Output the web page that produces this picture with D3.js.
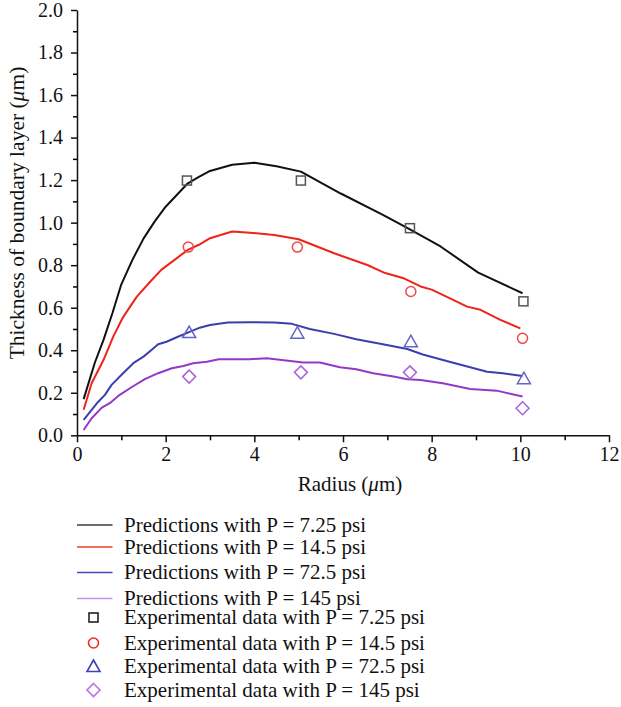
<!DOCTYPE html>
<html>
<head>
<meta charset="utf-8">
<script src="https://cdn.jsdelivr.net/npm/d3@7"></script>
<style>
  body { margin: 0; background: #fff; }
  svg text { font-family: "Liberation Serif", "Times New Roman", serif; fill: #111; }
</style>
</head>
<body>
<div id="chart"></div>
<script>
// predicted curves (radius in um, thickness in um)
var x725 = [0.15, 0.4, 0.6, 0.8, 1.0, 1.25, 1.5, 1.75, 2.0, 2.25, 2.5, 2.75, 3.0, 3.5, 4.0, 4.5, 5.05, 5.95, 6.9, 7.5, 8.2, 9.05, 10.05];
var y725 = [0.17, 0.34, 0.45, 0.575, 0.71, 0.825, 0.925, 1.005, 1.075, 1.13, 1.185, 1.215, 1.243, 1.272, 1.282, 1.265, 1.24, 1.137, 1.037, 0.97, 0.888, 0.765, 0.668];

var x145a = [0.15, 0.33, 0.6, 0.82, 1.04, 1.35, 1.65, 1.9, 2.2, 2.5, 2.75, 3.0, 3.5, 3.9, 4.45, 5.0, 5.8, 6.55, 6.95, 7.35, 7.75, 8.0, 8.25, 8.8, 9.1, 9.55, 10.0];
var y145a = [0.12, 0.245, 0.355, 0.465, 0.556, 0.652, 0.722, 0.778, 0.825, 0.872, 0.896, 0.927, 0.958, 0.953, 0.942, 0.922, 0.856, 0.801, 0.763, 0.74, 0.7, 0.685, 0.66, 0.605, 0.59, 0.543, 0.503];

var x725b = [0.15, 0.33, 0.48, 0.63, 0.78, 1.04, 1.27, 1.5, 1.68, 1.83, 2.02, 2.25, 2.5, 2.77, 3.0, 3.4, 3.9, 4.45, 4.85, 5.25, 5.8, 6.3, 6.9, 7.45, 7.8, 8.4, 9.25, 9.6, 10.05];
var y725b = [0.072, 0.119, 0.158, 0.19, 0.237, 0.292, 0.339, 0.37, 0.401, 0.428, 0.44, 0.461, 0.483, 0.506, 0.519, 0.53, 0.532, 0.53, 0.524, 0.5, 0.477, 0.452, 0.428, 0.406, 0.38, 0.346, 0.299, 0.292, 0.279];

var x145 = [0.15, 0.33, 0.56, 0.74, 0.93, 1.23, 1.53, 1.83, 2.14, 2.4, 2.62, 2.93, 3.2, 3.9, 4.28, 5.1, 5.48, 5.93, 6.3, 6.68, 7.14, 7.45, 7.75, 8.25, 8.87, 9.47, 10.05];
var y145 = [0.025, 0.08, 0.13, 0.151, 0.185, 0.226, 0.264, 0.292, 0.315, 0.326, 0.339, 0.346, 0.358, 0.358, 0.362, 0.342, 0.342, 0.32, 0.311, 0.292, 0.276, 0.264, 0.26, 0.245, 0.218, 0.21, 0.182];

// experimental points
var expX725 = [2.48, 5.05, 7.51, 10.07];
var expY725 = [1.198, 1.198, 0.974, 0.63];
var expX145a = [2.51, 4.97, 7.53, 10.05];
var expY145a = [0.885, 0.885, 0.676, 0.456];
var expX725b = [2.53, 4.97, 7.53, 10.08];
var expY725b = [0.483, 0.48, 0.44, 0.266];
var expX145 = [2.53, 5.05, 7.51, 10.05];
var expY145 = [0.276, 0.296, 0.296, 0.127];

var xTicks = [0, 2, 4, 6, 8, 10, 12];
var yTicks = [0.0, 0.2, 0.4, 0.6, 0.8, 1.0, 1.2, 1.4, 1.6, 1.8, 2.0];

var pressures = ["7.25", "14.5", "72.5", "145"];

var width = 621, height = 707;

var svg = d3.select("#chart").append("svg")
    .attr("width", width)
    .attr("height", height);

var x = d3.scaleLinear().domain([0, 12]).range([77, 609]);
var y = d3.scaleLinear().domain([0, 2]).range([435.3, 10]);

// series
var series = [
  {xs: x725, ys: y725, ex: expX725, ey: expY725, line: "#111", mark: "#555", legLine: "#3a3a3a", legMark: "#222", shape: "square"},
  {xs: x145a, ys: y145a, ex: expX145a, ey: expY145a, line: "#ee2418", mark: "#f04a4a", legLine: "#e8402e", legMark: "#e8301e", shape: "circle"},
  {xs: x725b, ys: y725b, ex: expX725b, ey: expY725b, line: "#3b3fae", mark: "#6464c4", legLine: "#4848b0", legMark: "#4040b0", shape: "triangle"},
  {xs: x145, ys: y145, ex: expX145, ey: expY145, line: "#9438c6", mark: "#a864dc", legLine: "#c890e2", legMark: "#c070e0", shape: "diamond"}
];

// minor ticks
svg.append("g")
    .attr("transform", "translate(0,435.3)")
    .call(d3.axisBottom(x).tickValues(d3.range(1, 12, 2)).tickSize(5).tickFormat(""))
    .call(function(g) { g.select(".domain").remove(); g.selectAll("line").attr("stroke-width", 1.5); });

svg.append("g")
    .attr("transform", "translate(77,0)")
    .call(d3.axisLeft(y).tickValues(d3.range(0.1, 2, 0.2)).tickSize(4).tickFormat(""))
    .call(function(g) { g.select(".domain").remove(); g.selectAll("line").attr("stroke-width", 1.5); });

// major axes
var xAxis = svg.append("g")
    .attr("transform", "translate(0,435.3)")
    .call(d3.axisBottom(x).tickValues(xTicks).tickSize(7).tickPadding(5).tickSizeOuter(0).tickFormat(d3.format("d")));

var yAxis = svg.append("g")
    .attr("transform", "translate(77,0)")
    .call(d3.axisLeft(y).tickValues(yTicks).tickSize(6).tickPadding(8).tickSizeOuter(0).tickFormat(d3.format(".1f")));

[xAxis, yAxis].forEach(function(a) {
  a.select(".domain").attr("stroke-width", 1.5).attr("stroke", "#111");
  a.selectAll("line").attr("stroke-width", 1.5).attr("stroke", "#111");
  a.selectAll("text").attr("font-size", 20).attr("font-family", "Liberation Serif").attr("fill", "#111");
});

// axis titles
var xt = svg.append("text")
    .attr("x", 350)
    .attr("y", 491)
    .attr("text-anchor", "middle")
    .attr("font-size", 21);
xt.append("tspan").text("Radius (");
xt.append("tspan").attr("font-style", "italic").text("\u03bc");
xt.append("tspan").text("m)");

var yt = svg.append("text")
    .attr("transform", "translate(24,213) rotate(-90)")
    .attr("text-anchor", "middle")
    .attr("font-size", 21.5);
yt.append("tspan").text("Thickness of boundary layer (");
yt.append("tspan").attr("font-style", "italic").text("\u03bc");
yt.append("tspan").text("m)");

var line = d3.line()
    .x(function(d) { return x(d[0]); })
    .y(function(d) { return y(d[1]); });

function drawMarker(g, shape, cx, cy, color, sw) {
  if (shape == "square") {
    g.append("rect").attr("x", cx - 4.5).attr("y", cy - 4.5).attr("width", 9).attr("height", 9)
      .attr("fill", "none").attr("stroke", color).attr("stroke-width", sw);
  } else if (shape == "circle") {
    g.append("circle").attr("cx", cx).attr("cy", cy).attr("r", 5)
      .attr("fill", "none").attr("stroke", color).attr("stroke-width", sw);
  } else if (shape == "triangle") {
    g.append("path").attr("d", "M" + cx + "," + (cy - 6.5) + "L" + (cx + 6.5) + "," + (cy + 5) + "L" + (cx - 6.5) + "," + (cy + 5) + "Z")
      .attr("fill", "none").attr("stroke", color).attr("stroke-width", sw);
  } else {
    g.append("path").attr("d", "M" + cx + "," + (cy - 6.5) + "L" + (cx + 6.5) + "," + cy + "L" + cx + "," + (cy + 6.5) + "L" + (cx - 6.5) + "," + cy + "Z")
      .attr("fill", "none").attr("stroke", color).attr("stroke-width", sw);
  }
}

var plot = svg.append("g");
series.forEach(function(s) {
  plot.append("path")
      .datum(d3.zip(s.xs, s.ys))
      .attr("d", line)
      .attr("fill", "none")
      .attr("stroke", s.line)
      .attr("stroke-width", 2)
      .attr("stroke-linejoin", "round");
});
series.forEach(function(s) {
  s.ex.forEach(function(v, i) {
    drawMarker(plot, s.shape, x(v), y(s.ey[i]), s.mark, 1.5);
  });
});

// legend
var lineRows = [525, 547, 572.5, 598.5];
var markRows = [617.5, 643, 666.5, 690];
var leg = svg.append("g");
series.forEach(function(s, i) {
  leg.append("line")
      .attr("x1", 77).attr("x2", 112.5)
      .attr("y1", lineRows[i]).attr("y2", lineRows[i])
      .attr("stroke", s.legLine).attr("stroke-width", 1.5);
  leg.append("text")
      .attr("x", 124).attr("y", lineRows[i])
      .attr("dy", "0.32em")
      .attr("font-size", 21)
      .text("Predictions with P = " + pressures[i] + " psi");
  drawMarker(leg, s.shape, 93.5, markRows[i], s.legMark, 1.6);
  leg.append("text")
      .attr("x", 124).attr("y", markRows[i])
      .attr("dy", "0.32em")
      .attr("font-size", 21)
      .text("Experimental data with P = " + pressures[i] + " psi");
});
</script>
</body>
</html>
